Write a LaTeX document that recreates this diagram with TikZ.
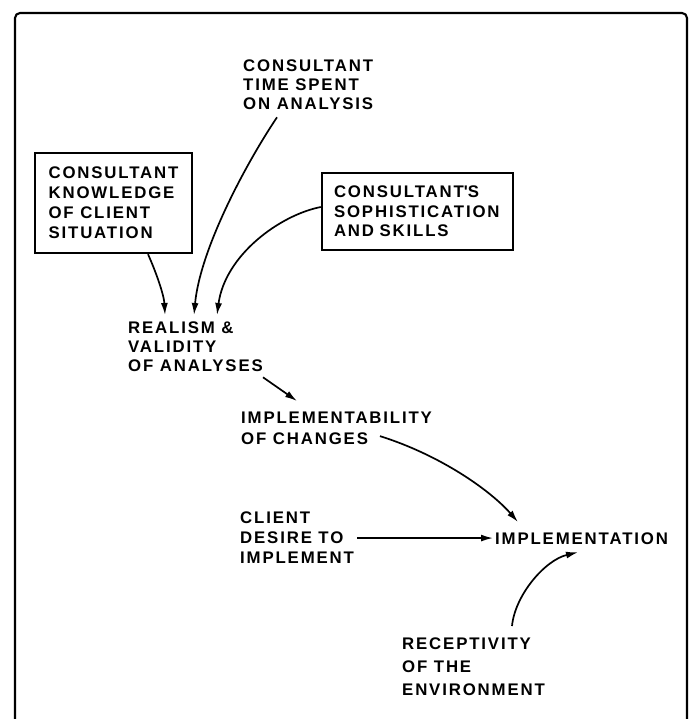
\documentclass[tikz,border=0pt]{standalone}
\usepackage{fontspec}
\setmainfont{Liberation Sans}[LetterSpace=11]
\usetikzlibrary{arrows.meta,calc}
\begin{document}
\begin{tikzpicture}[x=1pt,y=-1pt,
  lbl/.style={inner sep=0pt, align=left, font=\bfseries\fontsize{16.8}{#1}\selectfont},
  lbl/.default=19,
  boxed/.style={draw, line width=2.4pt, inner sep=0pt, align=left,
    font=\bfseries\fontsize{16.8}{#1}\selectfont},
  boxed/.default=20,
  link/.style={line width=1.7pt, -{Latex[length=12pt,width=7pt]}},
  frame/.style={line width=2.1pt, rounded corners=5pt}]
\useasboundingbox (0,0) rectangle (694,719);

% outer frame, open at the bottom
\draw[frame] (15,719) -- (15,13) -- (687,13) -- (687,719);

% factors
\node[lbl, anchor=north west] (time) at (243,60) {CONSULTANT\\TIME SPENT\\ON ANALYSIS};
\node[boxed, minimum width=157pt, minimum height=100pt] (know) at (113.5,203)
  {CONSULTANT\\KNOWLEDGE\\OF CLIENT\\SITUATION};
\node[boxed=19.5, minimum width=191pt, minimum height=77pt, text width=167pt] (skill) at (417.5,211.5)
  {CONSULTANT\textquotesingle S\\SOPHISTICATION\\AND SKILLS};
\node[lbl, anchor=north west] (real) at (128,322) {REALISM \&\\VALIDITY\\OF ANALYSES};
\node[lbl=21, anchor=north west] (ich) at (241,412) {IMPLEMENTABILITY\\OF CHANGES};
\node[lbl=20, anchor=north west] (client) at (240,512) {CLIENT\\DESIRE TO\\IMPLEMENT};
\node[lbl, anchor=north west] (impl) at (495,533) {IMPLEMENTATION};
\node[lbl=23, anchor=north west] (rec) at (402,638) {RECEPTIVITY\\OF THE\\ENVIRONMENT};

% influences
\draw[link] ([xshift=34.5pt]know.south) .. controls (156,272) and (164,295) ..
  ([xshift=37pt,yshift=7pt]real.north west);
\draw[link] ([xshift=34pt,yshift=-7pt]time.south west) .. controls (245,165) and (200,250) ..
  ([xshift=66pt,yshift=7pt]real.north west);
\draw[link] ([yshift=4.5pt]skill.west) .. controls (280,215) and (225,255) ..
  ([xshift=89pt,yshift=7pt]real.north west);
\draw[link] ([xshift=135pt,yshift=-5pt]real.south west) --
  ([xshift=56pt,yshift=11pt]ich.north west);
\draw[link] ([xshift=139pt,yshift=9pt]ich.south west) .. controls (440,455) and (490,490) ..
  ([xshift=23pt,yshift=11pt]impl.north west);
\draw[link, shorten >=2pt] ([xshift=117pt]client.west) -- (client.west -| impl.west);
\draw[link] ([xshift=110pt,yshift=12pt]rec.north west) .. controls (515,595) and (545,560) ..
  ([xshift=83pt,yshift=-7pt]impl.south west);
\end{tikzpicture}
\end{document}
